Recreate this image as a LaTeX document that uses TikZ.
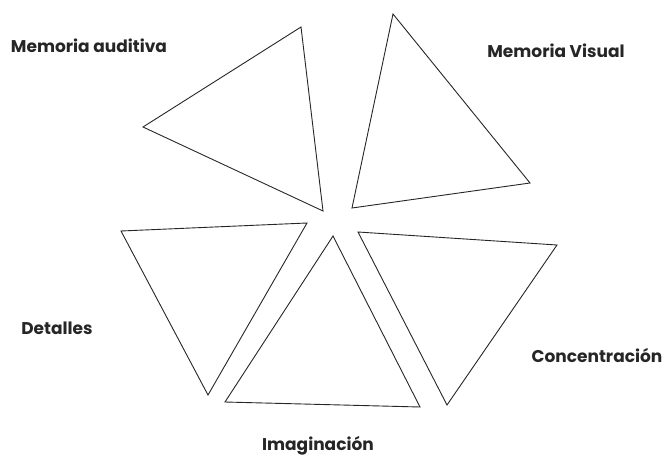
\documentclass[tikz,border=0pt]{standalone}
\usepackage{fontspec}
\setmainfont{Poppins}
\begin{document}
\begin{tikzpicture}[x=1pt,y=-1pt,
  tri/.style={draw=black!85,line width=0.9pt,line join=miter},
  lab/.style={font=\fontsize{17}{19}\selectfont\bfseries,text=black!85,inner sep=0pt}]
\useasboundingbox (0,0) rectangle (666,460);
% Memoria auditiva
\draw[tri] (143,127) -- (301,27) -- (323,211) -- cycle;
% Memoria Visual
\draw[tri] (393,14) -- (530,183) -- (352,208) -- cycle;
% Detalles
\draw[tri] (121,231) -- (307,223) -- (208,395) -- cycle;
% Imaginacion
\draw[tri] (333,236) -- (420,407) -- (225,402) -- cycle;
% Concentracion
\draw[tri] (358,232) -- (557,245) -- (447,405) -- cycle;
\node[lab] (ma) at (89,46) {Memoria auditiva};
\node[lab] (mv) at (556,51) {Memoria Visual};
\node[lab] (de) at (57,328) {Detalles};
\node[lab] (co) at (597,355) {Concentración};
\node[lab] (im) at (318,446) {Imaginación};
\end{tikzpicture}
\end{document}
